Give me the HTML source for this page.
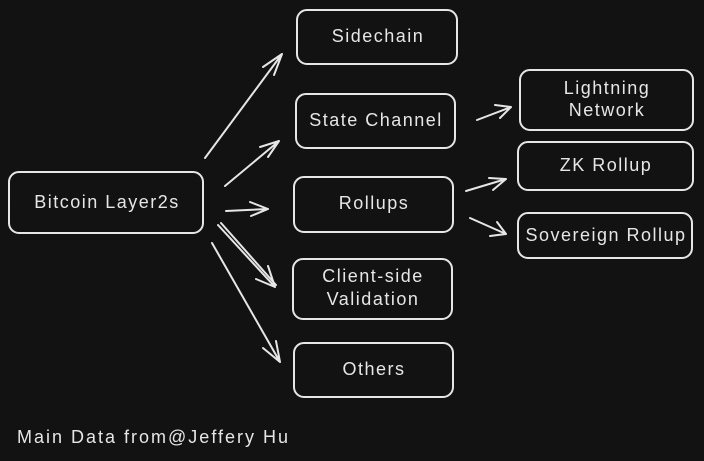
<!DOCTYPE html>
<html><head><meta charset="utf-8"><style>
html,body{margin:0;padding:0;background:#121212;}
svg{display:block}
text{font-family:"Liberation Sans",sans-serif;fill:#e6e6e6;font-size:18px;letter-spacing:1.5px;text-anchor:middle;dominant-baseline:middle}
</style></head><body>
<svg width="704" height="461" viewBox="0 0 704 461" xmlns="http://www.w3.org/2000/svg">
<rect width="704" height="461" fill="#121212"/>
<g fill="none" stroke="#e6e6e6" stroke-width="2" stroke-linecap="round">
<rect x="9" y="172" width="194" height="61" rx="10"/>
<rect x="297" y="10" width="160" height="54" rx="10"/>
<rect x="296" y="94" width="159" height="54" rx="10"/>
<rect x="294" y="177" width="159" height="55" rx="10"/>
<rect x="293" y="259" width="159" height="60" rx="10"/>
<rect x="294" y="343" width="159" height="54" rx="10"/>
<rect x="520" y="70" width="173" height="60" rx="10"/>
<rect x="518" y="142" width="175" height="48" rx="10"/>
<rect x="518" y="213" width="174" height="45" rx="10"/>
<path d="M205 158 L282 54 M282 54 L263 67 M282 54 L274 75"/>
<path d="M225 186 L279 141 M279 141 L260 147 M279 141 L268 157"/>
<path d="M226 211 L268 209 M268 209 L250 202 M268 209 L251 216"/>
<path d="M218 225 L275 287 M221 223 L276 285 M275 287 L268 266 M275 287 L256 279"/>
<path d="M212 243 L280 362 M280 362 L276 341 M280 362 L263 348"/>
<path d="M477 120 L511 107 M511 107 L495 105 M511 107 L500 118"/>
<path d="M466 191 L506 179 M506 179 L489 178 M506 179 L493 190"/>
<path d="M470 218 L506 234 M506 234 L497 222 M506 234 L490 236"/>
</g>
<text x="107" y="203">Bitcoin Layer2s</text>
<text x="378" y="37">Sidechain</text>
<text x="376" y="121">State Channel</text>
<text x="374" y="204">Rollups</text>
<text x="373" y="277">Client-side</text>
<text x="373" y="300">Validation</text>
<text x="374" y="370">Others</text>
<text x="607" y="89">Lightning</text>
<text x="607" y="111">Network</text>
<text x="606" y="166">ZK Rollup</text>
<text x="606" y="236">Sovereign Rollup</text>
<text x="17" y="438" style="text-anchor:start;letter-spacing:2px">Main Data from@Jeffery Hu</text>
</svg>
</body></html>
